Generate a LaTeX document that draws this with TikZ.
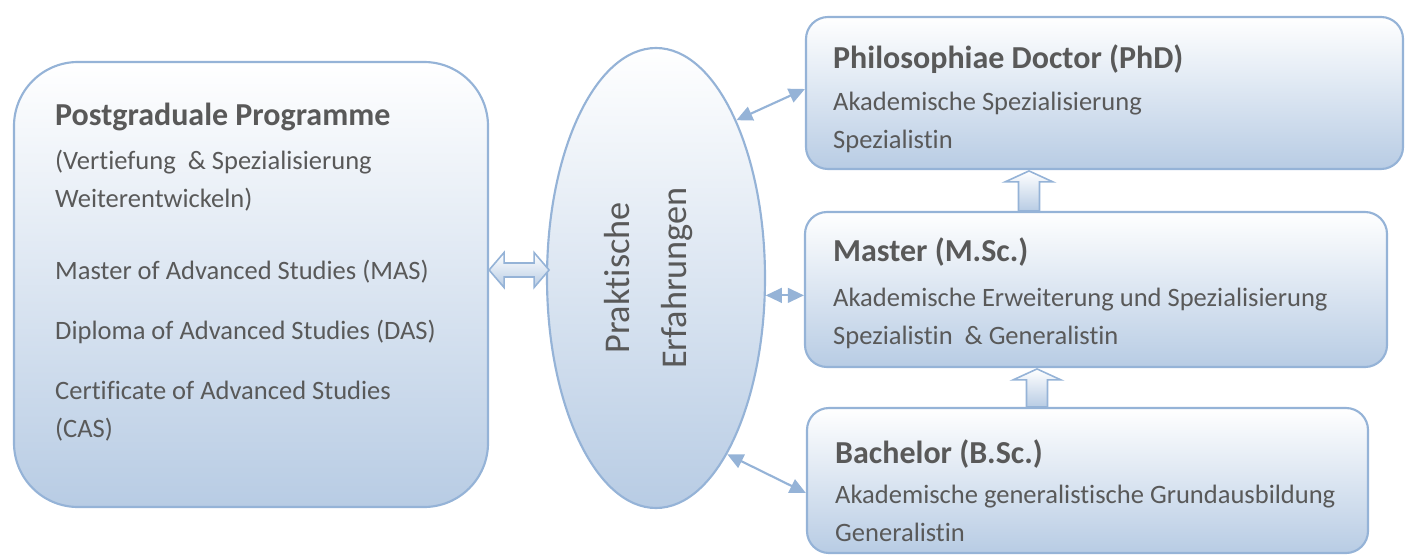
\documentclass[tikz,border=0pt]{standalone}
\usepackage{fontspec}
\setmainfont{Carlito}[Ligatures={NoCommon,NoRequired,NoContextual}]
\usetikzlibrary{positioning, arrows.meta, shapes.geometric, calc}

\definecolor{boxline}{RGB}{149,179,215}
\definecolor{boxbot}{RGB}{184,204,228}
\definecolor{txtgray}{RGB}{89,89,89}
\newcommand{\boxtitle}[1]{{\fontsize{24}{28.5}\selectfont\bfseries #1}}

\begin{document}
\begin{tikzpicture}[
    x=0.75pt, y=-0.75pt,
    box/.style={rectangle, draw=boxline, line width=1.6pt, rounded corners=16.5pt, top color=white, bottom color=boxbot},
    oval/.style={ellipse, draw=boxline, line width=1.6pt, top color=white, bottom color=boxbot},
    txt/.style={anchor=north west, inner sep=0pt, align=left, text=txtgray, font=\fontsize{19.9}{28.5}\selectfont},
    thinarr/.style={{Triangle[length=12pt,width=11pt]}-{Triangle[length=12pt,width=11pt]}, draw=boxline, line width=1.6pt},
    barrow/.style={draw=boxline, line width=1.2pt, line join=miter, top color=white, bottom color=boxbot},
]
    \useasboundingbox (0,0) rectangle (1405,556);

    % boxes
    \node[box, minimum width=355.5pt, minimum height=333.75pt, rounded corners=48pt] (post) at (251,284.5) {};
    \node[oval, minimum width=163.5pt, minimum height=345pt] (prak) at (656,278) {};
    \node[box, minimum width=447.75pt, minimum height=114pt] (phd) at (1104.5,93) {};
    \node[box, minimum width=436.5pt, minimum height=116.25pt] (master) at (1096,289.5) {};
    \node[box, minimum width=420.75pt, minimum height=108.75pt] (bach) at (1087.5,480.5) {};

    % texts
    \node[txt, below right=31.5pt and 31.5pt of post.north west] (posttxt)
        {\boxtitle{Postgraduale Programme}\\[4.5pt]
         (Vertiefung\ \ \& Spezialisierung\\
         Weiterentwickeln)\\[25.5pt]
         Master of Advanced Studies (MAS)\\[16.5pt]
         Diploma of Advanced Studies (DAS)\\[16.5pt]
         Certificate of Advanced Studies\\
         (CAS)};
    \node[rotate=90, align=center, text=txtgray, font=\fontsize{27.2}{42.75}\selectfont] (praktxt)
        at ($(prak.center)+(-7,0)$) {Praktische\\Erfahrungen};
    \node[txt, below right=21.2pt and 21pt of phd.north west] (phdtxt)
        {\boxtitle{Philosophiae Doctor (PhD)}\\[3pt]
         Akademische Spezialisierung\\
         Spezialistin};
    \node[txt, below right=20pt and 21.75pt of master.north west] (mastertxt)
        {\boxtitle{Master (M.Sc.)}\\[5pt]
         Akademische Erweiterung und Spezialisierung\\
         Spezialistin\ \ \& Generalistin};
    \node[txt, below right=24.5pt and 21.75pt of bach.north west] (bachtxt)
        {\boxtitle{Bachelor (B.Sc.)}\\[1.5pt]
         Akademische generalistische Grundausbildung\\
         Generalistin};

    % block arrows
    \coordinate (upa) at (1029,0);
    \coordinate (upb) at (1037,0);
    \coordinate (dbl) at (0,270);
    \path[barrow] ($(upa |- master.north)+(-10.5,0)$) -- ++(0,-29) -- ++(-13.5,0) -- ++(24,-11)
        -- ++(24,11) -- ++(-13.5,0) -- ++(0,29) -- cycle;
    \path[barrow] ($(upb |- bach.north)+(-10.5,0)$) -- ++(0,-27) -- ++(-13.5,0) -- ++(24,-11)
        -- ++(24,11) -- ++(-13.5,0) -- ++(0,27) -- cycle;
    \path[barrow] (post.east |- dbl) -- ++(15,-17.5) -- ++(0,10.5) -- ++(30,0) -- ++(0,-10.5)
        -- ++(15,17.5) -- ++(-15,17.5) -- ++(0,-10.5) -- ++(-30,0) -- ++(0,10.5) -- cycle;

    % thin arrows
    \draw[thinarr] (prak.63) -- ([yshift=3pt]phd.west);
    \draw[thinarr] (prak.-9) -- (prak.-9 -| master.west);
    \draw[thinarr] (prak.-68) -- ([yshift=-9.4pt]bach.west);
\end{tikzpicture}
\end{document}
